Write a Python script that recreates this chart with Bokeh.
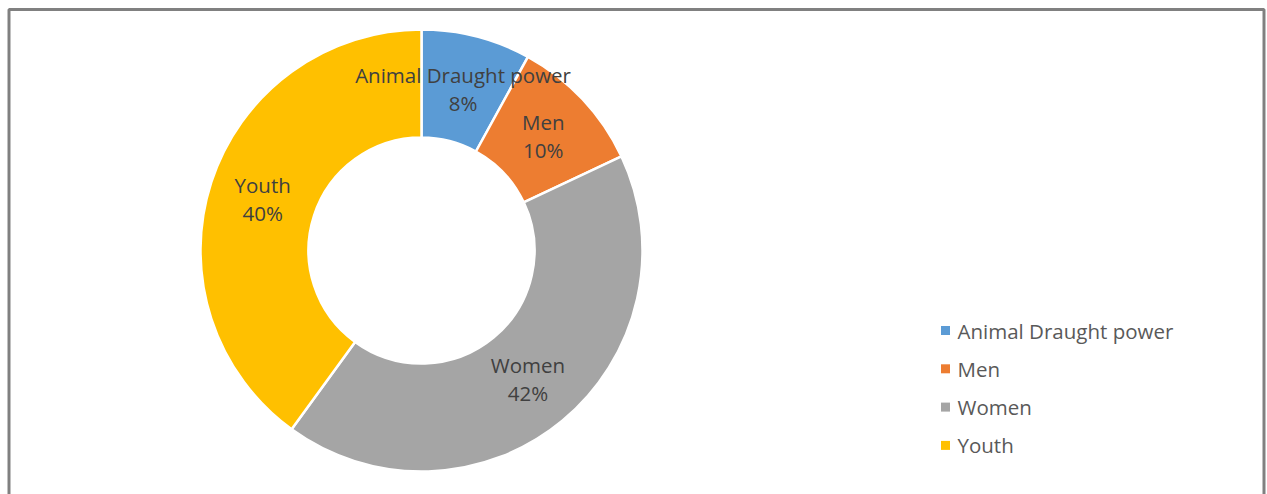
import math
from bokeh.plotting import figure
from bokeh.models import Range1d
from bokeh.core.properties import value
from bokeh.embed import file_html
from bokeh.resources import INLINE

categories = ["Animal Draught power", "Men", "Women", "Youth"]
values = [8, 10, 42, 40]
colors = ["#5B9BD5", "#ED7D31", "#A5A5A5", "#FFC000"]

W, H = 1267, 494
p = figure(width=W, height=H, output_backend="svg", toolbar_location=None,
           x_range=Range1d(0, W), y_range=Range1d(0, H), min_border=0)
p.axis.visible = False
p.grid.visible = False
p.outline_line_color = None
p.background_fill_color = "white"

# frame
p.quad(left=[8.5], right=[1263.5], top=[H - 9], bottom=[-10],
       fill_color=None, line_color="#808080", line_width=3)

cx, cy = 421, H - 250
r_in, r_out = 113, 221
total = sum(values)
starts, ends, mids = [], [], []
cum = 0
for v in values:
    a0 = math.pi / 2 - 2 * math.pi * cum / total
    cum += v
    a1 = math.pi / 2 - 2 * math.pi * cum / total
    starts.append(a0)
    ends.append(a1)
    mids.append((a0 + a1) / 2)

p.annular_wedge(x=[cx] * 4, y=[cy] * 4, inner_radius=r_in, outer_radius=r_out,
                start_angle=starts, end_angle=ends, direction="clock",
                fill_color=colors, line_color="white", line_width=2.5)

rm = (r_in + r_out) / 2
lx = [cx + rm * math.cos(a) for a in mids]
ly = [cy + rm * math.sin(a) for a in mids]
font = value("Open Sans")
p.text(x=lx, y=ly, text=categories, text_align="center", text_baseline="middle",
       y_offset=-14, text_font=font, text_font_size="20.5px", text_color="#404040")
p.text(x=lx, y=ly, text=[f"{v}%" for v in values], text_align="center",
       text_baseline="middle", y_offset=14, text_font=font, text_font_size="20.5px",
       text_color="#404040")

# legend
leg_y = [H - 330 - 38.3 * i for i in range(4)]
p.scatter(x=[945] * 4, y=leg_y, marker="square", size=9, fill_color=colors, line_color=None)
p.text(x=[957] * 4, y=leg_y, text=categories, text_align="left", text_baseline="middle",
       text_font=font, text_font_size="20.5px", text_color="#595959")

open("out.html", "w").write(file_html(p, INLINE))
